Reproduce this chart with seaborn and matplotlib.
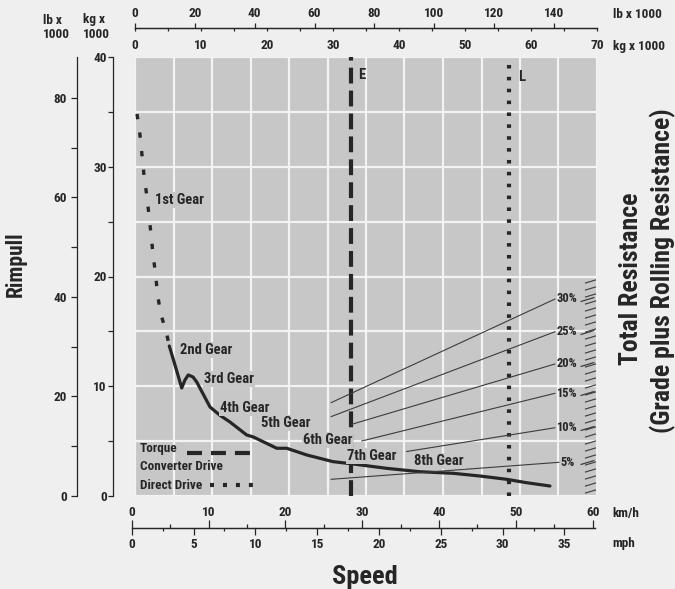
import matplotlib
matplotlib.use("Agg")
import matplotlib.pyplot as plt
from matplotlib.ticker import MultipleLocator, LinearLocator
import numpy as np
import seaborn as sns

# Curva de tiro: velocidad en km/h, tiro en kg x 1000
vel_1a = [0.69, 1.08, 1.34, 1.60, 1.95, 2.25, 2.51, 2.77, 3.10, 3.36, 3.75, 4.53, 4.89]
tiro_1a = [34.81, 32.89, 31.07, 29.25, 27.43, 25.60, 23.87, 22.05, 20.23, 18.41, 16.67, 14.85, 13.67]
vel_marchas = [4.89, 5.63, 6.51, 6.93, 7.36, 7.98, 8.46, 10.19, 11.49, 12.79, 14.96, 15.82, 18.87,
               20.17, 22.77, 26.19, 28.79, 33.18, 37.51, 41.80, 45.32, 48.79, 51.39, 54.42]
tiro_marchas = [13.67, 11.94, 9.84, 10.57, 11.03, 10.84, 10.39, 8.11, 7.35, 6.74, 5.56, 5.38, 4.35,
                4.35, 3.74, 3.13, 2.92, 2.52, 2.21, 2.07, 1.82, 1.52, 1.21, 0.91]

# Etiquetas de las marchas
marchas = ["1st Gear", "2nd Gear", "3rd Gear", "4th Gear", "5th Gear", "6th Gear", "7th Gear", "8th Gear"]
marcha_vel = [3.03, 6.28, 9.41, 11.49, 16.78, 22.29, 27.97, 36.79]
marcha_tiro = [26.97, 13.30, 10.66, 8.05, 6.62, 5.10, 3.64, 3.16]

# Lineas de resistencia total (pendiente + rodadura)
pendientes = ["30%", "25%", "20%", "15%", "10%", "5%"]
pend_v0 = [25.93, 25.93, 28.62, 29.92, 35.75, 25.93]
pend_v1 = [55.08, 55.08, 55.08, 55.08, 55.08, 55.60]
pend_t0 = [8.50, 7.23, 6.53, 5.01, 4.05, 1.52]
pend_t1 = [17.95, 14.97, 12.03, 9.36, 6.22, 3.07]

# Peso bruto del vehiculo (kg x 1000): vacio y cargado
peso_vacio = 32.7
peso_cargado = 56.7

KG_A_LB = 2.20462
KMH_A_MPH = 1 / 1.609344

sns.set_theme(style="white")
plt.rcParams["font.family"] = ["Roboto Condensed", "DejaVu Sans"]
plt.rcParams["font.weight"] = "bold"

ANCHO, ALTO = 675, 589
fondo = "#efefef"
gris = "#c7c7c7"
tinta = "#262626"
linea = "#3c3c3c"


def caja(x0, y0, x1, y1):
    return [x0 / ANCHO, 1 - y1 / ALTO, (x1 - x0) / ANCHO, (y1 - y0) / ALTO]


def texto(x, y, s, **kw):
    kw.setdefault("ha", "left")
    kw.setdefault("va", "center")
    fig.text(x / ANCHO, 1 - y / ALTO, s, color=tinta, **kw)


def escala(rect, lado, lim, mayor, menor, largo, pad):
    e = fig.add_axes(caja(*rect))
    e.patch.set_visible(False)
    for s in e.spines:
        e.spines[s].set_visible(s == lado)
    e.spines[lado].set_color(tinta)
    e.spines[lado].set_linewidth(0.9)
    if lado in ("top", "bottom"):
        eje, nombre = e.xaxis, "x"
        e.set_xlim(lim)
        e.yaxis.set_visible(False)
    else:
        eje, nombre = e.yaxis, "y"
        e.set_ylim(lim)
        e.xaxis.set_visible(False)
    eje.set_ticks_position(lado)
    eje.set_major_locator(MultipleLocator(mayor))
    if menor:
        eje.set_minor_locator(MultipleLocator(menor))
    e.tick_params(axis=nombre, which="both", direction="out", color=tinta, width=0.9,
                  labelsize=9.5, labelcolor=tinta, pad=pad)
    e.tick_params(axis=nombre, which="major", length=largo[0])
    e.tick_params(axis=nombre, which="minor", length=largo[1])
    return e


fig = plt.figure(figsize=(ANCHO / 100, ALTO / 100), dpi=100)
fig.patch.set_facecolor(fondo)

# Zona gris con cuadricula; eje x = peso del vehiculo
base = fig.add_axes(caja(135, 57, 597, 496))
base.set_facecolor(gris)
base.set_xlim(0, 70)
base.set_ylim(0, 40)
base.xaxis.set_major_locator(LinearLocator(13))
base.yaxis.set_major_locator(MultipleLocator(5))
base.grid(True, color="#f3f3f3", lw=1.6)
base.tick_params(length=0, labelbottom=False, labelleft=False)
for s in base.spines.values():
    s.set_visible(False)

base.axvline(peso_vacio, color=tinta, lw=3, ls=(0, (3.8, 1.7)))
base.axvline(peso_cargado, color=tinta, lw=3, ls=(0, (0.85, 2.0)))
base.text(33.8, 38.4, "E", fontsize=10.5, color=tinta, va="center")
base.text(58.1, 38.2, "L", fontsize=10.5, color=tinta, va="center")

# Leyenda
base.text(0.011, 0.109, "Torque", transform=base.transAxes, fontsize=9.5, color=tinta, va="center")
base.text(0.011, 0.068, "Converter Drive", transform=base.transAxes, fontsize=9.5, color=tinta, va="center")
base.text(0.011, 0.025, "Direct Drive", transform=base.transAxes, fontsize=9.5, color=tinta, va="center")
base.plot([0.112, 0.253], [0.097, 0.097], transform=base.transAxes, color=tinta, lw=3, ls=(0, (3.6, 2.15)))
base.plot([0.162, 0.255], [0.025, 0.025], transform=base.transAxes, color=tinta, lw=3, ls=(0, (0.96, 2.15)))

# Eje de velocidad superpuesto
ax = base.twiny()
ax.patch.set_visible(False)
for s in ax.spines.values():
    s.set_visible(False)

sns.lineplot(x=vel_1a, y=tiro_1a, ax=ax, sort=False, estimator=None, color=tinta,
             lw=2.4, linestyle=(0, (1.6, 4.0)))
sns.lineplot(x=vel_marchas, y=tiro_marchas, ax=ax, sort=False, estimator=None, color=tinta,
             lw=2.3, solid_joinstyle="round", solid_capstyle="round")

trazo = [(-1, -0.3), (1, 0.3)]
for i in range(len(pendientes)):
    ax.plot([pend_v0[i], pend_v1[i]], [pend_t0[i], pend_t1[i]], color=linea, lw=0.8)
    ax.annotate(pendientes[i], (pend_v1[i], pend_t1[i]), xytext=(0.8, 0), textcoords="offset points",
                fontsize=9, color=tinta, va="center", ha="left")
    ax.plot([59.24], [pend_t1[i]], ls="none", marker=trazo, ms=10, mew=0.9, color=linea)

# las etiquetas tapan la linea E, como en el original
for i in range(len(marchas)):
    ax.text(marcha_vel[i], marcha_tiro[i], marchas[i], fontsize=10.5, color=tinta, va="center", ha="left",
            bbox=dict(fc=gris, ec="none", pad=0.6), zorder=4)

ax.set_xlim(0.43, 60.54)
ax.set_ylim(0, 40)
ax.xaxis.set_visible(False)
ax.set_xlabel("")
ax.set_ylabel("")

# Escalera de la resistencia a la derecha
esc = fig.add_axes(caja(583, 281, 597, 491))
esc.axis("off")
esc.set_xlim(-1, 1)
esc.set_ylim(0, 30)
esc.plot(np.zeros(31), np.arange(31), ls="none", marker=trazo, ms=8, mew=0.8, color=linea, clip_on=False)

# Escalas de peso (arriba)
escala((135, 0, 597, 28.3), "bottom", (0, 70), 10, 5, (2.4, 2.4), 5.2)
escala((135, 28.3, 597, 60), "top", (0, 70 * KG_A_LB), 20, None, (3.8, 0), 2.2)

# Escalas de velocidad (abajo)
escala((131.7, 528, 595, 560), "top", (0, 60.3), 10, 5, (5.8, 2.9), 0.6)
escala((131.7, 500, 595, 528), "bottom", (0, 60.3 * KMH_A_MPH), 5, 2.5, (5.0, 2.2), 2.0)

# Escalas de tiro (izquierda)
escala((113.3, 57, 135, 496), "left", (0, 40), 10, 5, (3.6, 3.6), 1.0)
escala((77.3, 57, 110, 496), "left", (0, 40 * KG_A_LB), 20, 10, (4.0, 4.0), 3.6)

# Textos
texto(43, 27.5, "lb x\n1000", fontsize=9.5, linespacing=1.2)
texto(83, 27.5, "kg x\n1000", fontsize=9.5, linespacing=1.2)
texto(613, 15, "lb x 1000", fontsize=9.5)
texto(613, 46.7, "kg x 1000", fontsize=9.5)
texto(612, 514, "km/h", fontsize=9.5)
texto(612, 544, "mph", fontsize=9.5)
texto(16, 264, "Rimpull", fontsize=15.5, rotation=90, ha="center")
texto(631, 279, "Total Resistance", fontsize=18.5, rotation=90, ha="center")
texto(663, 271, "(Grade plus Rolling Resistance)", fontsize=18.5, rotation=90, ha="center")
texto(365, 577, "Speed", fontsize=19, ha="center")

fig.savefig("out.png", dpi=100, facecolor=fondo)
